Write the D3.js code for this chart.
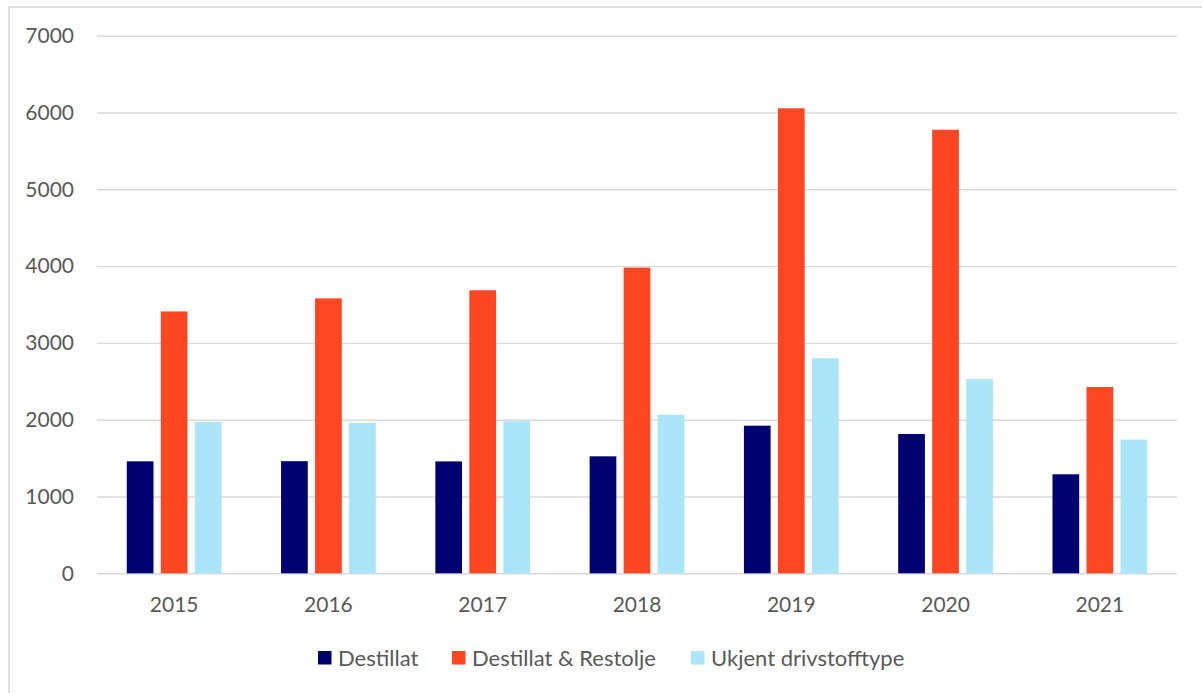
<!DOCTYPE html>
<html>
<head>
<meta charset="utf-8">
<script src="https://cdn.jsdelivr.net/npm/d3@7"></script>
<style>
  html, body { margin: 0; padding: 0; background: #fff; }
  svg { display: block; }
  text { font-family: Lato, "Open Sans", sans-serif; fill: #595959; }
</style>
</head>
<body>
<svg id="chart" width="1202" height="693"></svg>
<script>
// Years on the category axis
const years = ["2015", "2016", "2017", "2018", "2019", "2020", "2021"];

// Series names and colours
const seriesNames = ["Destillat", "Destillat & Restolje", "Ukjent drivstofftype"];
const seriesColors = ["#000070", "#FF4622", "#ABE5FA"];

// Values per year for each series
const destillat = [1458, 1460, 1457, 1523, 1922, 1814, 1289];
const destillatRestolje = [3410, 3580, 3685, 3980, 6055, 5776, 2426];
const ukjent = [1970, 1958, 1980, 2065, 2800, 2530, 1740];

// Value axis ticks
const yTicks = [0, 1000, 2000, 3000, 4000, 5000, 6000, 7000];

const seriesValues = [destillat, destillatRestolje, ukjent];

const svg = d3.select("#chart");
const W = 1202, H = 693;

// Outer frame
svg.append("rect")
  .attr("x", 9).attr("y", 7)
  .attr("width", W + 20).attr("height", H + 20)
  .attr("fill", "#fff")
  .attr("stroke", "#d9d9d9").attr("stroke-width", 1.6);

const plot = { left: 97, right: 1177, top: 35.7, bottom: 573.3 };

const x = d3.scaleBand()
  .domain(years)
  .range([plot.left, plot.right])
  .paddingInner(0).paddingOuter(0);

const groupWidth = x.bandwidth() * 0.614;
const xs = d3.scaleBand()
  .domain(seriesNames)
  .range([0, groupWidth])
  .paddingInner(0.215).paddingOuter(0);

const y = d3.scaleLinear()
  .domain([0, 7000])
  .range([plot.bottom, plot.top]);

// Horizontal gridlines with value labels
const yAxis = d3.axisLeft(y)
  .tickValues(yTicks)
  .tickFormat(d3.format("d"))
  .tickSize(-(plot.right - plot.left))
  .tickPadding(23);

const yg = svg.append("g")
  .attr("transform", `translate(${plot.left},0)`)
  .call(yAxis);
yg.select(".domain").remove();
yg.selectAll(".tick line").attr("stroke", "#d9d9d9").attr("stroke-width", 1.4);
yg.selectAll(".tick text")
  .attr("font-size", 21)
  .attr("fill", "#595959")
  .attr("font-family", "Lato, 'Open Sans', sans-serif");

// Bars
const groups = svg.append("g").selectAll("g")
  .data(years)
  .join("g")
  .attr("transform", d => `translate(${x(d) + (x.bandwidth() - groupWidth) / 2},0)`);

groups.selectAll("rect")
  .data((d, i) => seriesNames.map((s, k) => ({ series: s, value: seriesValues[k][i], color: seriesColors[k] })))
  .join("rect")
  .attr("x", d => xs(d.series))
  .attr("width", xs.bandwidth())
  .attr("y", d => y(d.value))
  .attr("height", d => y(0) - y(d.value))
  .attr("fill", d => d.color);

// Category axis labels
const xAxis = d3.axisBottom(x).tickSize(0).tickPadding(24);
const xg = svg.append("g")
  .attr("transform", `translate(0,${plot.bottom})`)
  .call(xAxis);
xg.select(".domain").remove();
xg.selectAll(".tick text")
  .attr("font-size", 21)
  .attr("fill", "#595959")
  .attr("font-family", "Lato, 'Open Sans', sans-serif");

// Legend
const legendX = [318, 452, 691];
const legend = svg.append("g").selectAll("g")
  .data(seriesNames)
  .join("g")
  .attr("transform", (d, i) => `translate(${legendX[i]},651)`);
legend.append("rect")
  .attr("width", 13.5).attr("height", 13.5)
  .attr("fill", (d, i) => seriesColors[i]);
legend.append("text")
  .attr("x", 20).attr("y", 7)
  .attr("dy", "0.35em")
  .attr("font-size", 22)
  .text(d => d);
</script>
</body>
</html>
